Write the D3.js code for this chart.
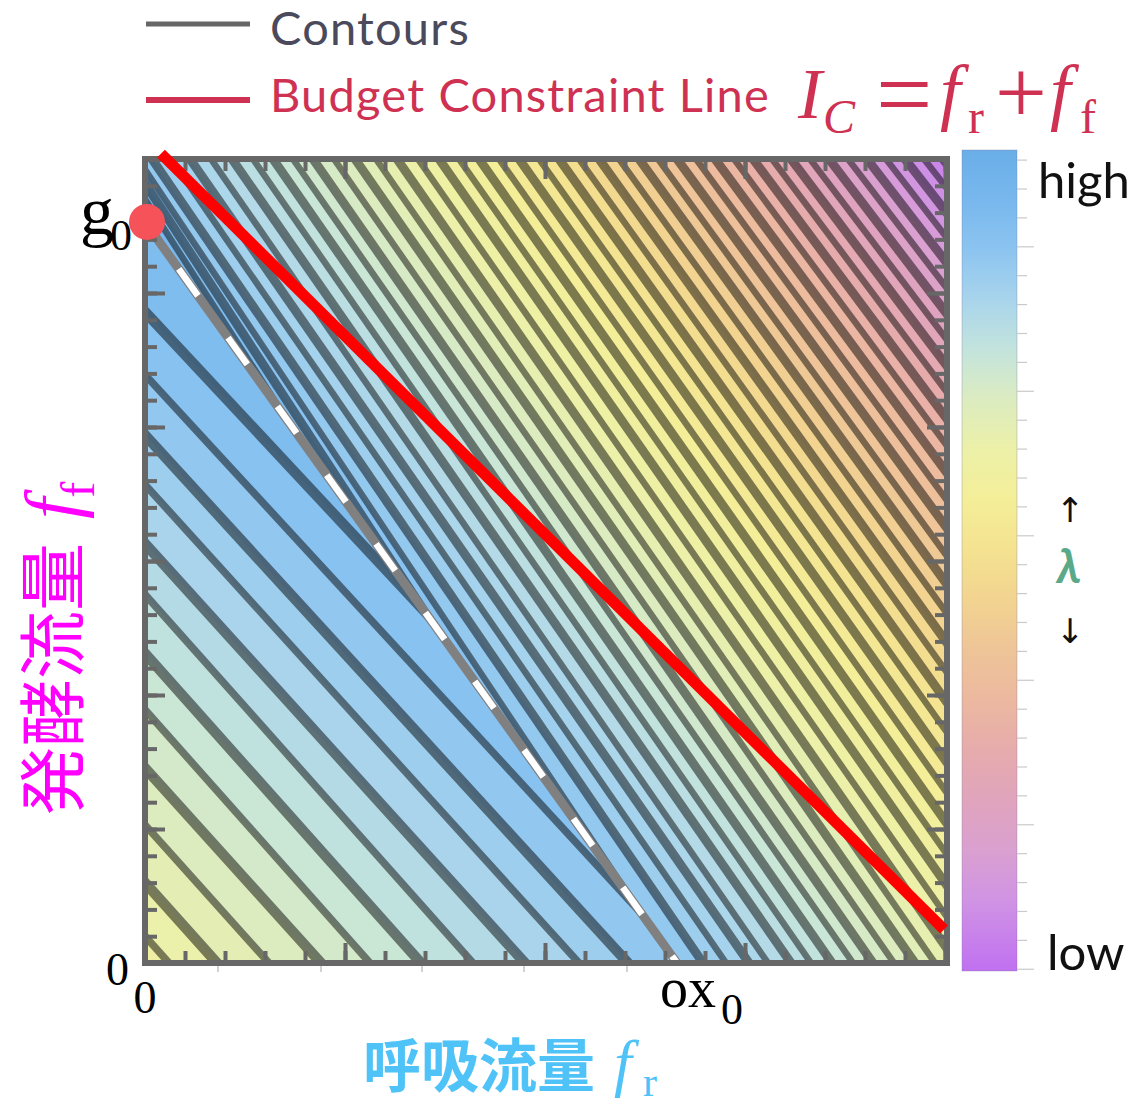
<!DOCTYPE html>
<html>
<head>
<meta charset="utf-8">
<style>
    body { margin: 0; background: #fff; }
    svg { display: block; }
</style>
</head>
<body>
<svg id="chart" width="1137" height="1106"></svg>
<script src="https://d3js.org/d3.v7.min.js"></script>
<script>
    // axis limits and the two corner values
    var frMax = 4.01, ffMax = 6.0;
    var ox0 = 2.66, g0 = 5.53;

    // colour bar, lambda in tick units (0 = low, 28 = high)
    var lambdaStops = [28.35, 26.6, 24.9, 23.2, 21.4, 19.7, 18.0, 16.2, 14.5, 12.8, 11.0, 9.3, 7.6, 5.9, 4.1, 2.4, -0.06];
    var lambdaColors = ["#6aaee8", "#78b8ee", "#8cc4f0", "#a8d4ec", "#c4e4dc", "#dcecc0", "#ecf0a8", "#f4ee98",
        "#f4e290", "#f2d490", "#eec498", "#ecb8a0", "#e6acac", "#e0a4bc", "#daa0d0", "#d094e4", "#c070f0"];

    // contours below the dashed line: ff where fr = 0, fr where ff = 0, level
    var leftFF = [4.86, 4.39, 3.94, 3.57, 3.13, 2.75, 2.31, 1.89, 1.455, 1.03, 0.60, 0.20];
    var leftFR = [3.04, 2.71, 2.415, 2.17, 1.90, 1.64, 1.38, 1.125, 0.88, 0.62, 0.36, 0.12];
    var leftLevel = [25.6, 24.9, 24.2, 23.5, 22.8, 22.0, 21.3, 20.6, 19.9, 19.2, 18.5, 17.8];

    // contours above the dashed line: fr at the top edge, fr where ff = 0, level
    var rightTopFR = [-0.13, -0.08, -0.035,
        0.035, 0.13, 0.225, 0.33, 0.435, 0.54, 0.64, 0.74, 0.84, 0.945, 1.05, 1.155, 1.26, 1.365,
        1.47, 1.57, 1.67, 1.77, 1.87, 1.97, 2.07, 2.17, 2.27, 2.37, 2.47, 2.565, 2.66, 2.755,
        2.85, 2.945, 3.04, 3.135, 3.23, 3.325, 3.42, 3.515, 3.61, 3.705, 3.80, 3.895, 3.99];
    var rightBottomFR = [2.46, 2.545, 2.645,
        2.79, 2.905, 3.02, 3.115, 3.23, 3.33, 3.435, 3.54, 3.64, 3.745, 3.85, 3.95, 4.06, 4.17,
        4.28, 4.39, 4.50, 4.61, 4.72, 4.83, 4.94, 5.05, 5.16, 5.27, 5.38, 5.49, 5.60, 5.71,
        5.82, 5.93, 6.04, 6.15, 6.26, 6.37, 6.48, 6.59, 6.70, 6.81, 6.92, 7.03, 7.14];
    var rightLevel = [26.3, 25.6, 24.9,
        24.0, 23.6, 23.2, 22.7, 22.3, 21.8, 21.3, 20.8, 20.3, 19.8, 19.3, 18.8, 18.3, 17.8,
        17.3, 16.9, 16.5, 16.0, 15.4, 14.9, 14.3, 13.7, 13.1, 12.5, 11.9, 11.3, 10.7, 10.1,
        9.4, 8.7, 8.0, 7.3, 6.6, 5.9, 5.2, 4.5, 3.8, 3.1, 2.4, 1.8, 1.2];

    // budget constraint line I_C = f_r + f_f (end points)
    var budgetLine = [[0.08, 6.04], [3.995, 0.25]];

    // faint ticks under the frame
    var outerTicks = [0.365, 0.88, 1.385, 1.895, 2.41];

    var svg = d3.select("#chart");
    var defs = svg.append("defs");

    var x = d3.scaleLinear().domain([0, frMax]).range([145, 947]);
    var y = d3.scaleLinear().domain([0, ffMax]).range([963, 159]);
    var color = d3.scaleLinear().domain(lambdaStops).range(lambdaColors);
    var cb = d3.scaleLinear().domain([-0.06, 28.35]).range([971, 150]);

    function px(p) { return [x(p[0]), y(p[1])]; }

    var leftRegion = [[0, 0], [0, g0], [ox0, 0]];
    var rightRegion = [[0, g0], [0, ffMax], [frMax, ffMax], [frMax, 0], [ox0, 0]];

    defs.append("clipPath").attr("id", "clipL")
        .append("path").attr("d", d3.line()(leftRegion.map(px)) + "Z");
    defs.append("clipPath").attr("id", "clipR")
        .append("path").attr("d", d3.line()(rightRegion.map(px)) + "Z");

    // big polygon covering one side of the line a-b (the side holding point s)
    function halfPlane(a, b, s) {
        var dx = b[0] - a[0], dy = b[1] - a[1];
        var A = [a[0] - 3 * dx, a[1] - 3 * dy], B = [b[0] + 3 * dx, b[1] + 3 * dy];
        var len = Math.hypot(dx, dy), nx = -dy / len, ny = dx / len;
        if (nx * (s[0] - a[0]) + ny * (s[1] - a[1]) < 0) { nx = -nx; ny = -ny; }
        var D = 4000;
        return [A, B, [B[0] + D * nx, B[1] + D * ny], [A[0] + D * nx, A[1] + D * ny]];
    }

    function bandLevels(lev) {
        var n = lev.length;
        var near = lev.map(function (v, k) {
            return k === 0 ? v + (lev[0] - lev[1]) / 2 : (lev[k - 1] + v) / 2;
        });
        return { near: near, far: lev[n - 1] - (lev[n - 2] - lev[n - 1]) / 2 };
    }

    var leftLines = leftFF.map(function (ff, i) {
        return { a: px([0, ff]), b: px([leftFR[i], 0]), level: leftLevel[i], w: i % 2 === 0 ? 10.5 : 7.5 };
    });
    var rightLines = rightTopFR.map(function (fr, i) {
        return { a: px([fr, ffMax]), b: px([rightBottomFR[i], 0]), level: rightLevel[i], w: i % 2 === 1 ? 9 : 6.5 };
    });

    function drawRegion(lines, region, clipId, nearRef) {
        var g = svg.append("g").attr("clip-path", "url(#" + clipId + ")");
        var bands = bandLevels(lines.map(function (d) { return d.level; }));
        g.append("path").attr("d", d3.line()(region.map(px)) + "Z")
            .attr("fill", color(bands.far));
        for (var k = lines.length - 1; k >= 0; k--) {
            g.append("path")
                .attr("d", d3.line()(halfPlane(lines[k].a, lines[k].b, nearRef)) + "Z")
                .attr("fill", color(bands.near[k]));
        }
        g.selectAll("path.contour")
            .data(lines)
            .enter().append("path")
            .attr("class", "contour")
            .attr("d", function (d) {
                var dx = d.b[0] - d.a[0], dy = d.b[1] - d.a[1];
                return d3.line()([[d.a[0] - dx, d.a[1] - dy], [d.b[0] + dx, d.b[1] + dy]]);
            })
            .attr("fill", "none")
            .attr("stroke", "rgba(0,0,0,0.49)")
            .attr("stroke-width", function (d) { return d.w; });
    }

    drawRegion(leftLines, leftRegion, "clipL", px([frMax, ffMax]));
    drawRegion(rightLines, rightRegion, "clipR", px([0, 0]));

    // dashed line from g0 to ox0
    var dashed = d3.line()([px([0, g0]), px([ox0, 0])]);
    svg.append("path").attr("d", dashed).attr("stroke", "#808080").attr("stroke-width", 9).attr("fill", "none");
    svg.append("path").attr("d", dashed).attr("stroke", "#fff").attr("stroke-width", 6.5).attr("fill", "none")
        .attr("stroke-dasharray", "33 51.6").attr("stroke-dashoffset", 26.8);

    // inward ticks
    var tickColor = "#676767";
    function ticks(axisFn, scale, count, len, transform) {
        svg.append("g").attr("transform", transform)
            .call(axisFn(scale).ticks(count).tickSize(len).tickFormat(""))
            .call(function (g) {
                g.select(".domain").remove();
                g.selectAll("line").attr("stroke", tickColor).attr("stroke-width", 4);
            });
    }
    [[20, 12], [4, 20]].forEach(function (t) {
        ticks(d3.axisBottom, x, t[0], -t[1], "translate(0,963)");
        ticks(d3.axisTop, x, t[0], -t[1], "translate(0,159)");
    });
    [[30, 12], [6, 20]].forEach(function (t) {
        ticks(d3.axisLeft, y, t[0], -t[1], "translate(145,0)");
        ticks(d3.axisRight, y, t[0], -t[1], "translate(947,0)");
    });

    svg.append("g").selectAll("line").data(outerTicks).enter().append("line")
        .attr("x1", function (d) { return x(d); }).attr("x2", function (d) { return x(d); })
        .attr("y1", 966).attr("y2", 972)
        .attr("stroke", "#c4c4c4").attr("stroke-width", 1.5);

    // frame
    svg.append("rect").attr("x", 145).attr("y", 159).attr("width", 802).attr("height", 804)
        .attr("fill", "none").attr("stroke", tickColor).attr("stroke-width", 6);

    // budget line
    svg.append("path").attr("d", d3.line()(budgetLine.map(px)))
        .attr("stroke", "#ff0000").attr("stroke-width", 11).attr("fill", "none");

    // g0 point
    svg.append("circle").attr("cx", x(0) + 2).attr("cy", y(g0)).attr("r", 18).attr("fill", "#f5525a");

    // colour bar
    var grad = defs.append("linearGradient").attr("id", "cbGrad")
        .attr("x1", 0).attr("x2", 0).attr("y1", 0).attr("y2", 1);
    lambdaStops.forEach(function (v, i) {
        grad.append("stop").attr("offset", (cb(v) - 150) / 821).attr("stop-color", lambdaColors[i]);
    });
    svg.append("rect").attr("x", 962).attr("y", 150).attr("width", 55).attr("height", 821)
        .attr("fill", "url(#cbGrad)").attr("stroke", "rgba(120,120,160,0.35)").attr("stroke-width", 1);
    svg.append("g").selectAll("line").data(cb.ticks(28)).enter().append("line")
        .attr("x1", 1017).attr("x2", function (d) { return d % 5 === 0 ? 1034 : 1027; })
        .attr("y1", function (d) { return cb(d); }).attr("y2", function (d) { return cb(d); })
        .attr("stroke", "#cacaca").attr("stroke-width", 1.2);

    var sans = "Lato, 'Open Sans', sans-serif";
    var serif = "'Liberation Serif', 'DejaVu Serif', serif";
    var cjk = "'Noto Sans CJK JP', 'Noto Sans CJK SC', sans-serif";

    svg.append("text").attr("x", 1038).attr("y", 198).attr("font-family", sans).attr("font-size", 49)
        .attr("fill", "#111").text("high");
    svg.append("text").attr("x", 1047).attr("y", 970).attr("font-family", sans).attr("font-size", 49)
        .attr("fill", "#111").text("low");
    svg.append("text").attr("x", 1070).attr("y", 522).attr("text-anchor", "middle")
        .attr("font-family", "'DejaVu Sans', sans-serif").attr("font-size", 34).attr("fill", "#111").text("↑");
    svg.append("text").attr("x", 1069).attr("y", 583).attr("text-anchor", "middle")
        .attr("font-family", sans).attr("font-style", "italic").attr("font-weight", "bold")
        .attr("font-size", 48).attr("fill", "#5aaa8a").text("λ");
    svg.append("text").attr("x", 1070).attr("y", 643).attr("text-anchor", "middle")
        .attr("font-family", "'DejaVu Sans', sans-serif").attr("font-size", 34).attr("fill", "#111").text("↓");

    // legend
    svg.append("line").attr("x1", 146).attr("x2", 250).attr("y1", 24).attr("y2", 24)
        .attr("stroke", "#666").attr("stroke-width", 5);
    svg.append("text").attr("x", 270).attr("y", 45).attr("font-family", sans).attr("font-size", 47)
        .attr("letter-spacing", 1.2).attr("fill", "#4a4a5c").text("Contours");
    svg.append("line").attr("x1", 146).attr("x2", 250).attr("y1", 100).attr("y2", 100)
        .attr("stroke", "#cf3152").attr("stroke-width", 6);
    svg.append("text").attr("x", 270).attr("y", 112).attr("font-family", sans).attr("font-size", 47)
        .attr("letter-spacing", 1.2).attr("fill", "#cf3152").text("Budget Constraint Line");

    function piece(px_, py, txt, size, italic, fill) {
        svg.append("text").attr("x", px_).attr("y", py).attr("font-family", serif)
            .attr("font-size", size).attr("font-style", italic ? "italic" : "normal")
            .attr("fill", fill).text(txt);
    }
    var crimson = "#cf3152";
    piece(798, 118, "I", 72, true, crimson);
    piece(823, 133, "C", 48, true, crimson);
    piece(876, 128, "=", 100, false, crimson);
    piece(940, 116, "f", 74, true, crimson);
    piece(968, 133, "r", 48, false, crimson);
    piece(995, 123, "+", 92, false, crimson);
    piece(1050, 116, "f", 74, true, crimson);
    piece(1080, 133, "f", 48, false, crimson);

    // corner labels
    piece(x(0) - 65, y(g0) + 12, "g", 68, false, "#000");
    piece(x(0) - 35, y(g0) + 28, "0", 44, false, "#000");
    svg.append("text").attr("x", x(0) - 16).attr("y", 985).attr("text-anchor", "end")
        .attr("font-family", serif).attr("font-size", 46).text("0");
    svg.append("text").attr("x", x(0)).attr("y", 1013).attr("text-anchor", "middle")
        .attr("font-family", serif).attr("font-size", 46).text("0");
    piece(x(ox0) - 17, 1007, "ox", 56, false, "#000");
    piece(x(ox0) + 44, 1024, "0", 44, false, "#000");

    // axis titles
    svg.append("text").attr("x", 363).attr("y", 1087).attr("font-family", cjk).attr("font-weight", "bold")
        .attr("font-size", 58).attr("fill", "#4fc3f7").text("呼吸流量");
    piece(614, 1084, "f", 64, true, "#4fc3f7");
    piece(643, 1096, "r", 42, false, "#4fc3f7");

    var yl = svg.append("text").attr("transform", "translate(78,815) rotate(-90)")
        .attr("fill", "#ff00ff");
    yl.append("tspan").attr("font-family", cjk).attr("font-size", 68).text("発酵流量");
    yl.append("tspan").attr("dx", 24).attr("font-family", serif).attr("font-style", "italic")
        .attr("font-size", 76).text("f");
    yl.append("tspan").attr("dy", 16).attr("font-family", serif).attr("font-size", 48).text("f");
</script>
</body>
</html>
